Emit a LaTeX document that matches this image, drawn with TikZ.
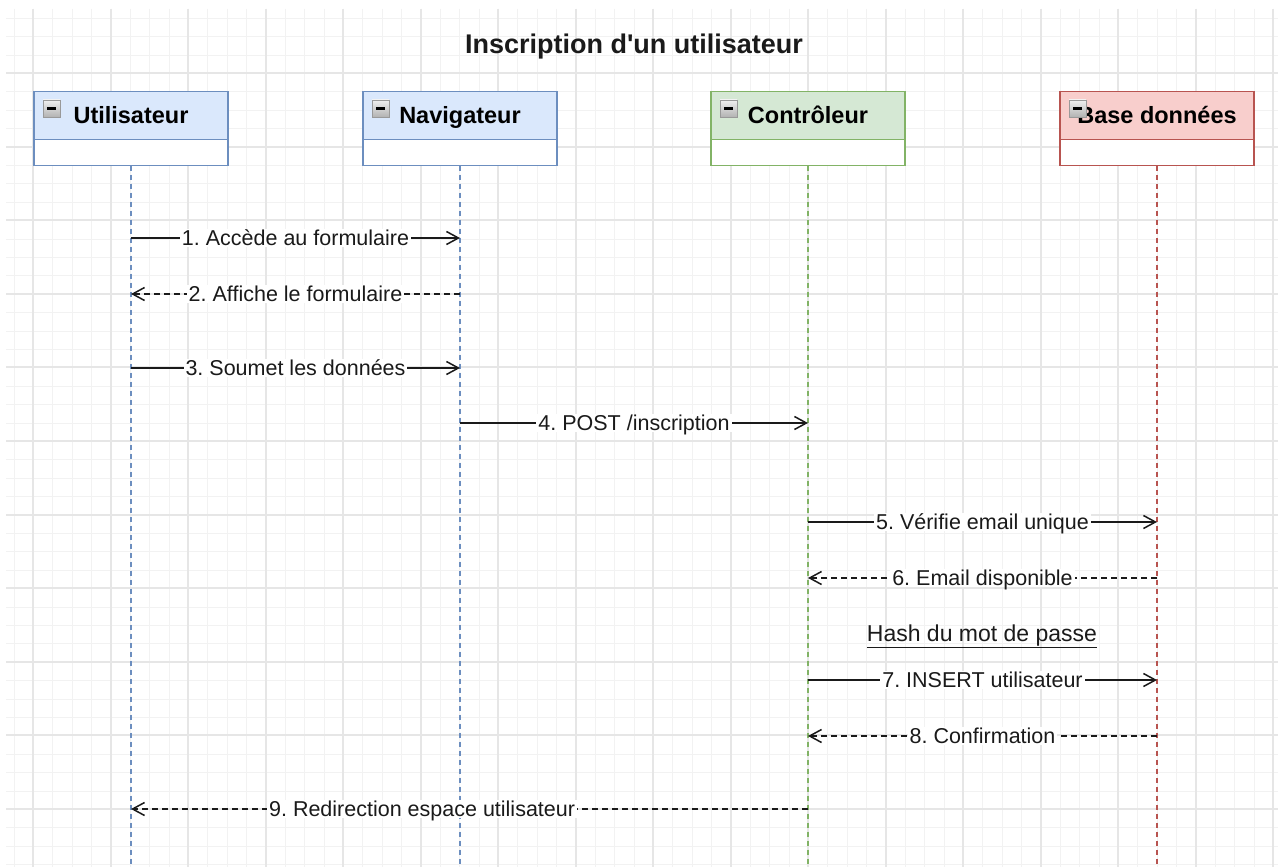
\documentclass[tikz,border=0pt]{standalone}
\usepackage{fontspec}
\setmainfont{Liberation Sans}
\usetikzlibrary{arrows.meta}

\definecolor{bluefill}{HTML}{DAE8FC}
\definecolor{blueline}{HTML}{6C8EBF}
\definecolor{greenfill}{HTML}{D5E8D4}
\definecolor{greenline}{HTML}{82B366}
\definecolor{redfill}{HTML}{F8CECC}
\definecolor{redline}{HTML}{B85450}
\definecolor{gridmajor}{HTML}{E6E6E6}
\definecolor{gridminor}{HTML}{F2F2F2}
\definecolor{ink}{HTML}{1A1A1A}

\frenchspacing
\begin{document}
\begin{tikzpicture}[x=1pt,y=-1pt,
  minorline/.style={draw=gridminor,line width=1pt},
  majorline/.style={draw=gridmajor,line width=2pt},
  headbox/.style={rectangle,line width=1.5pt,anchor=north west,outer sep=0pt,
    minimum width=194pt,minimum height=48pt,inner sep=0pt,
    font=\fontsize{23.5}{27}\selectfont\bfseries,
    text height=16.8pt,text depth=0pt},
  bodybox/.style={rectangle,line width=1.5pt,fill=white,anchor=north,outer sep=0pt,
    minimum width=194pt,minimum height=26pt,inner sep=0pt},
  iconbox/.style={rectangle,draw=black!40,line width=0.8pt,outer sep=0pt,
    top color=black!6,bottom color=black!30,
    minimum width=17pt,minimum height=17pt,inner sep=0pt,
    anchor=north west,xshift=9pt,yshift=-8.5pt,
    path picture={\draw[line width=2pt,black]
      ([xshift=4pt]path picture bounding box.west) --
      ([xshift=-4pt]path picture bounding box.east);}},
  lifeline/.style={line width=1.5pt,dash pattern=on 5pt off 4pt},
  msg/.style={draw=ink,line width=1.5pt,
    -{Straight Barb[length=12pt,width=13pt]}},
  reply/.style={msg,dash pattern=on 6pt off 4pt},
  lbl/.style={fill=white,text=ink,inner xsep=2pt,inner ysep=1pt,
    font=\fontsize{21.5}{25}\selectfont,
    text height=15.4pt,text depth=0pt}
]
\useasboundingbox (0,0) rectangle (1278,867);
\fill[white] (0,0) rectangle (1278,867);

% background grid
\begin{scope}
  \clip (6,9) rectangle (1278,867);
  \foreach \i in {-2,...,64}
    \draw[minorline] ({round(33+19.375*\i)+0.5},9) -- ({round(33+19.375*\i)+0.5},867);
  \foreach \j in {-4,...,44}
    \draw[minorline] (6,{round(73+18.4*\j)+0.5}) -- (1278,{round(73+18.4*\j)+0.5});
  \foreach \i in {0,...,16}
    \draw[majorline] ({round(33+77.5*\i)},9) -- ({round(33+77.5*\i)},867);
  \foreach \j in {0,...,11}
    \draw[majorline] (6,{round(73+73.6*\j)}) -- (1278,{round(73+73.6*\j)});
\end{scope}

% title
\node[font=\fontsize{27}{31}\selectfont\bfseries,text=ink,
      text height=19.3pt,text depth=0pt,inner sep=0pt] (title) at (634,44)
  {Inscription d\textquotesingle un utilisateur};

% participants
\node[headbox,fill=bluefill,draw=blueline] (user) at (34,91.5) {Utilisateur};
\node[bodybox,draw=blueline] (userb) at (user.south) {};
\node[iconbox] (usericon) at (user.north west) {};

\node[headbox,fill=bluefill,draw=blueline] (nav) at (363,91.5) {Navigateur};
\node[bodybox,draw=blueline] (navb) at (nav.south) {};
\node[iconbox] (navicon) at (nav.north west) {};

\node[headbox,fill=greenfill,draw=greenline] (ctrl) at (711,91.5) {Contrôleur};
\node[bodybox,draw=greenline] (ctrlb) at (ctrl.south) {};
\node[iconbox] (ctrlicon) at (ctrl.north west) {};

\node[headbox,fill=redfill,draw=redline] (db) at (1060,91.5) {Base données};
\node[bodybox,draw=redline] (dbb) at (db.south) {};
\node[iconbox] (dbicon) at (db.north west) {};

% lifelines
\coordinate (userEnd) at (userb.south |- 0,867);
\coordinate (navEnd)  at (navb.south |- 0,867);
\coordinate (ctrlEnd) at (ctrlb.south |- 0,867);
\coordinate (dbEnd)   at (dbb.south |- 0,867);
\draw[lifeline,blueline]  (userb.south) -- (userEnd);
\draw[lifeline,blueline]  (navb.south)  -- (navEnd);
\draw[lifeline,greenline] (ctrlb.south) -- (ctrlEnd);
\draw[lifeline,redline]   (dbb.south)   -- (dbEnd);

% message anchors on the lifelines
\coordinate (u1) at (user.center |- 0,238);
\coordinate (n1) at (nav.center |- 0,238);
\coordinate (u2) at (user.center |- 0,294);
\coordinate (n2) at (nav.center |- 0,294);
\coordinate (u3) at (user.center |- 0,368);
\coordinate (n3) at (nav.center |- 0,368);
\coordinate (n4) at (nav.center |- 0,423);
\coordinate (c4) at (ctrl.center |- 0,423);
\coordinate (c5) at (ctrl.center |- 0,522);
\coordinate (d5) at (db.center |- 0,522);
\coordinate (c6) at (ctrl.center |- 0,578);
\coordinate (d6) at (db.center |- 0,578);
\coordinate (c7) at (ctrl.center |- 0,680);
\coordinate (d7) at (db.center |- 0,680);
\coordinate (c8) at (ctrl.center |- 0,736);
\coordinate (d8) at (db.center |- 0,736);
\coordinate (c9) at (ctrl.center |- 0,809);
\coordinate (u9) at (user.center |- 0,809);

% messages
\draw[msg]   (u1) -- node[lbl] {1. Accède au formulaire} (n1);
\draw[reply] (n2) -- node[lbl] {2. Affiche le formulaire} (u2);
\draw[msg]   (u3) -- node[lbl] {3. Soumet les données} (n3);
\draw[msg]   (n4) -- node[lbl] {4. POST /inscription} (c4);
\draw[msg]   (c5) -- node[lbl] {5. Vérifie email unique} (d5);
\draw[reply] (d6) -- node[lbl] {6. Email disponible} (c6);
\node[text=ink,inner sep=0pt,font=\fontsize{23}{27}\selectfont,
      text height=16.5pt,text depth=0pt] (hash) at (982,633)
  {\underline{Hash du mot de passe}};
\draw[msg]   (c7) -- node[lbl] {7. INSERT utilisateur} (d7);
\draw[reply] (d8) -- node[lbl] {8. Confirmation} (c8);
\draw[reply] (c9) -- node[lbl,pos=0.57] {9. Redirection espace utilisateur} (u9);
\end{tikzpicture}
\end{document}
